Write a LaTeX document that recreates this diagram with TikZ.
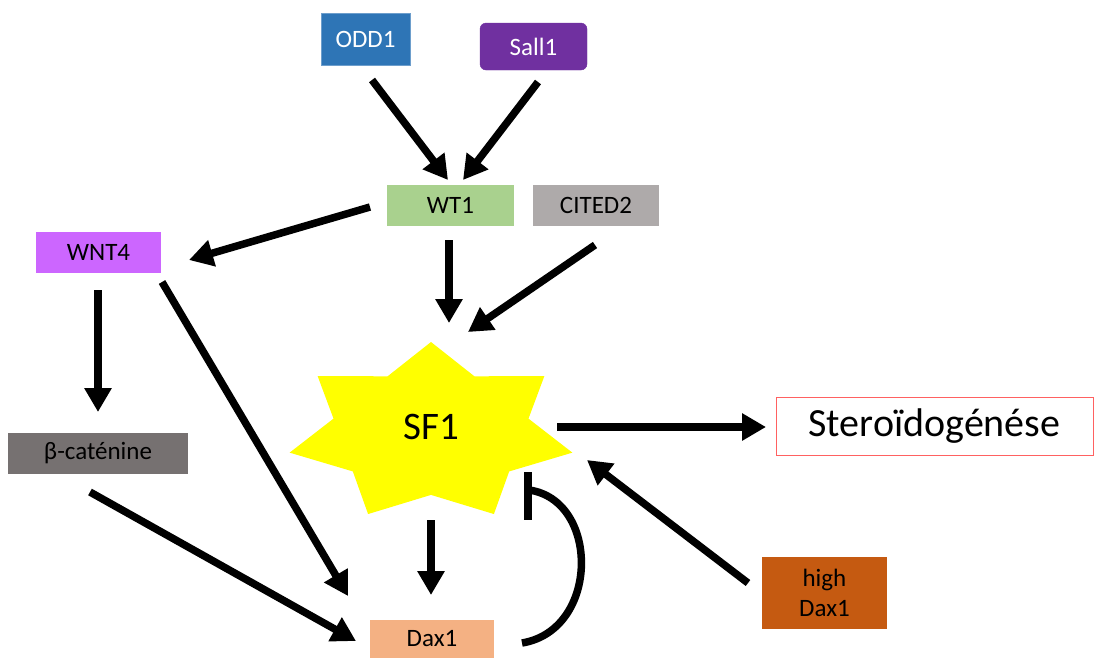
\documentclass[tikz,border=0pt]{standalone}
\usepackage{fontspec}
\setmainfont{Carlito}
\usetikzlibrary{arrows.meta}
\definecolor{codd}{HTML}{2E75B6}
\definecolor{csall}{HTML}{7030A0}
\definecolor{cwt}{HTML}{A9D18E}
\definecolor{ccited}{HTML}{AEAAAA}
\definecolor{cwnt}{HTML}{CC66FF}
\definecolor{cbcat}{HTML}{767171}
\definecolor{cdax}{HTML}{F4B183}
\definecolor{chigh}{HTML}{C55A11}
\definecolor{cstero}{HTML}{FF6161}
\definecolor{csf}{HTML}{FFFF00}
\begin{document}
\begin{tikzpicture}[x=1pt,y=-1pt,
  box/.style={rectangle, inner sep=0pt, font=\fontsize{25}{30}\selectfont, text=black},
  arr/.style={line width=7.5pt, -{Triangle[length=24pt,width=26pt]}},
  inhib/.style={line width=7.5pt},
]
\useasboundingbox (0,0) rectangle (1095,657);
% boxes
\node[box, fill=codd, draw=codd!70!white, text=white, minimum width=89pt, minimum height=52pt] (odd1) at (365.5,39) {ODD1};
\node[box, fill=csall, draw=csall, rounded corners=6pt, text=white, minimum width=107pt, minimum height=47pt] (sall1) at (533.5,46.5) {Sall1};
\node[box, fill=cwt, minimum width=127pt, minimum height=41pt] (wt1) at (450.5,205.5) {WT1};
\node[box, fill=ccited, minimum width=126pt, minimum height=41pt] (cited2) at (596,205.5) {CITED2};
\node[box, fill=cwnt, minimum width=125pt, minimum height=41pt] (wnt4) at (98.5,252.5) {WNT4};
\node[box, fill=cbcat, minimum width=180pt, minimum height=41pt] (bcat) at (98,453.5) {β-caténine};
\node[box, fill=cdax, minimum width=124pt, minimum height=38pt] (dax1) at (432,638.5) {Dax1};
\node[box, fill=chigh, align=center, minimum width=125pt, minimum height=72pt] (high) at (824.5,593) {high\\Dax1};
\node[box, fill=white, draw=cstero, line width=1pt, font=\fontsize{40}{48}\selectfont, minimum width=317pt, minimum height=58pt] (stero) at (934.5,426) {Steroïdogénése};
% star SF1
\begin{scope}[shift={(431,432.5)}]
\fill[csf] (-90:145 and 90.5)
  \foreach \k in {0,...,6} { -- ({-90+(\k+0.5)*360/7}:100 and 62.4) -- ({-90+(\k+1)*360/7}:145 and 90.5) } -- cycle;
\end{scope}
\node[inner sep=0pt, font=\fontsize{39}{46}\selectfont] (sf1) at (431,427) {SF1};
% connector ends
\coordinate (odd1-o) at (372,80);
\coordinate (wt1-i1) at (448,180);
\coordinate (sall1-o) at (538,82);
\coordinate (wt1-i2) at (463,180);
\coordinate (wt1-o1) at (370,207);
\coordinate (wnt4-i) at (189,260);
\coordinate (wt1-o2) at (449,240);
\coordinate (sf1-i1) at (449,323);
\coordinate (cited2-o) at (595,245);
\coordinate (sf1-i2) at (468,332);
\coordinate (wnt4-o1) at (98,290);
\coordinate (bcat-i) at (98,412);
\coordinate (wnt4-o2) at (162,282);
\coordinate (dax1-i1) at (348,596);
\coordinate (bcat-o) at (90,492);
\coordinate (dax1-i2) at (356,641);
\coordinate (sf1-o1) at (557,427);
\coordinate (stero-i) at (766,427);
\coordinate (sf1-o2) at (431,520);
\coordinate (dax1-i3) at (431,595);
\coordinate (high-o) at (748,583);
\coordinate (sf1-i3) at (587,460);
\coordinate (dax1-o) at (522,643);
\coordinate (sf1-bar) at (529,490);
\coordinate (bar-top) at (528,472);
\coordinate (bar-bot) at (528,520);
% arrows
\draw[arr] (odd1-o) -- (wt1-i1);
\draw[arr] (sall1-o) -- (wt1-i2);
\draw[arr] (wt1-o1) -- (wnt4-i);
\draw[arr] (wt1-o2) -- (sf1-i1);
\draw[arr] (cited2-o) -- (sf1-i2);
\draw[arr] (wnt4-o1) -- (bcat-i);
\draw[arr] (wnt4-o2) -- (dax1-i1);
\draw[arr] (bcat-o) -- (dax1-i2);
\draw[arr] (sf1-o1) -- (stero-i);
\draw[arr] (sf1-o2) -- (dax1-i3);
\draw[arr] (high-o) -- (sf1-i3);
% inhibition loop
\draw[inhib] (dax1-o) .. controls (600,630) and (600,500) .. (sf1-bar);
\draw[inhib] (bar-top) -- (bar-bot);
\end{tikzpicture}
\end{document}
